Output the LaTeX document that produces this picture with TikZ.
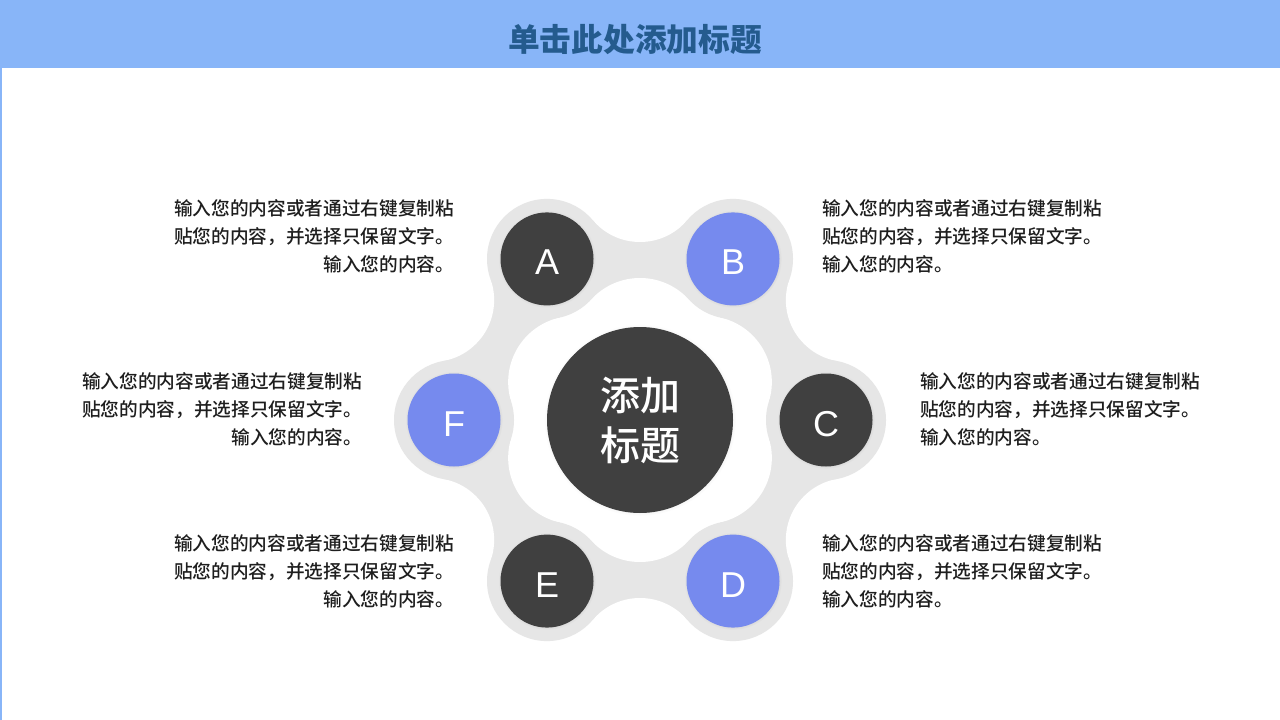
\documentclass[tikz,border=0pt]{standalone}
\usepackage{fontspec}
\setmainfont{Noto Sans CJK SC}
\newfontfamily\latinfont{Liberation Sans}
\newfontfamily\notefont{Noto Sans CJK SC Medium}
\usetikzlibrary{calc, positioning, shadows}
\definecolor{barBlue}{HTML}{88B5F8}
\definecolor{titleBlue}{HTML}{245B8E}
\definecolor{ringGray}{HTML}{E6E6E6}
\definecolor{darkDot}{HTML}{404040}
\definecolor{blueDot}{HTML}{768AEE}
\definecolor{noteBlack}{HTML}{1E1E1E}

\begin{document}
\begin{tikzpicture}[x=0.75pt, y=-0.75pt,
    dot/.style={circle, inner sep=0pt, minimum size=69.75pt, text=white,
      font=\latinfont\fontsize{27}{27}\selectfont, text height=24pt, text depth=0pt,
      circular drop shadow={shadow xshift=0pt, shadow yshift=0pt, shadow scale=1.05, opacity=0.25}},
    hub/.style={circle, inner sep=0pt, minimum size=139.5pt, fill=darkDot, text=white,
      align=center, font=\notefont\fontsize{30}{37.5}\selectfont,
      circular drop shadow={shadow xshift=0pt, shadow yshift=0pt, shadow scale=1.03, opacity=0.25}},
    note/.style={text width=210pt, inner sep=0pt, align=left, text=noteBlack,
      font=\notefont\fontsize{14}{21}\selectfont}]
    % Page
    \useasboundingbox (0,0) rectangle (1280,720);
    \fill[white] (0,0) rectangle (1280,720);
    \fill[barBlue] (0,0) rectangle (1280,68);
    \fill[barBlue] (0,68) rectangle (1.5,720);
    \node[font=\fontsize{23.8}{28}\selectfont\bfseries, text=titleBlue] (title) at (635,40) {单击此处添加标题};

    % Coordinates
    \coordinate (O) at (640,420);

    % Gray ring with bulges
    \fill[ringGray] (O) circle (205.4);
    \foreach \a in {30,90,...,330}
        \fill[white] (O) ++(\a:239.9) circle (61.9);
    \fill[white] (O) circle (130.1);
    \foreach \a in {30,90,...,330}
        \fill[white] (O) ++(\a:75.9) circle (66.1);
    \foreach \a in {0,60,...,300}
        \fill[ringGray] (O) ++(\a:186) circle (60);

    % Circles
    \node[hub] (hub) at (O) {添加\\标题};
    \node[dot, fill=darkDot] (A) at ($(O)+(240:186)$) {A};
    \node[dot, fill=blueDot] (B) at ($(O)+(300:186)$) {B};
    \node[dot, fill=darkDot] (C) at ($(O)+(0:186)$) {C};
    \node[dot, fill=blueDot] (D) at ($(O)+(60:186)$) {D};
    \node[dot, fill=darkDot] (E) at ($(O)+(120:186)$) {E};
    \node[dot, fill=blueDot] (F) at ($(O)+(180:186)$) {F};

    % Notes
    \node[note] (noteA) at (314,236) {输入您的内容或者通过右键复制粘\\贴您的内容，并选择只保留文字。\\\hspace*{\fill}输入您的内容。};
    \node[note] (noteF) at (222,409) {输入您的内容或者通过右键复制粘\\贴您的内容，并选择只保留文字。\\\hspace*{\fill}输入您的内容。};
    \node[note] (noteE) at (314,571) {输入您的内容或者通过右键复制粘\\贴您的内容，并选择只保留文字。\\\hspace*{\fill}输入您的内容。};
    \node[note] (noteB) at (962,236) {输入您的内容或者通过右键复制粘\\贴您的内容，并选择只保留文字。\\输入您的内容。};
    \node[note] (noteC) at (1060,409) {输入您的内容或者通过右键复制粘\\贴您的内容，并选择只保留文字。\\输入您的内容。};
    \node[note] (noteD) at (962,571) {输入您的内容或者通过右键复制粘\\贴您的内容，并选择只保留文字。\\输入您的内容。};
\end{tikzpicture}
\end{document}
